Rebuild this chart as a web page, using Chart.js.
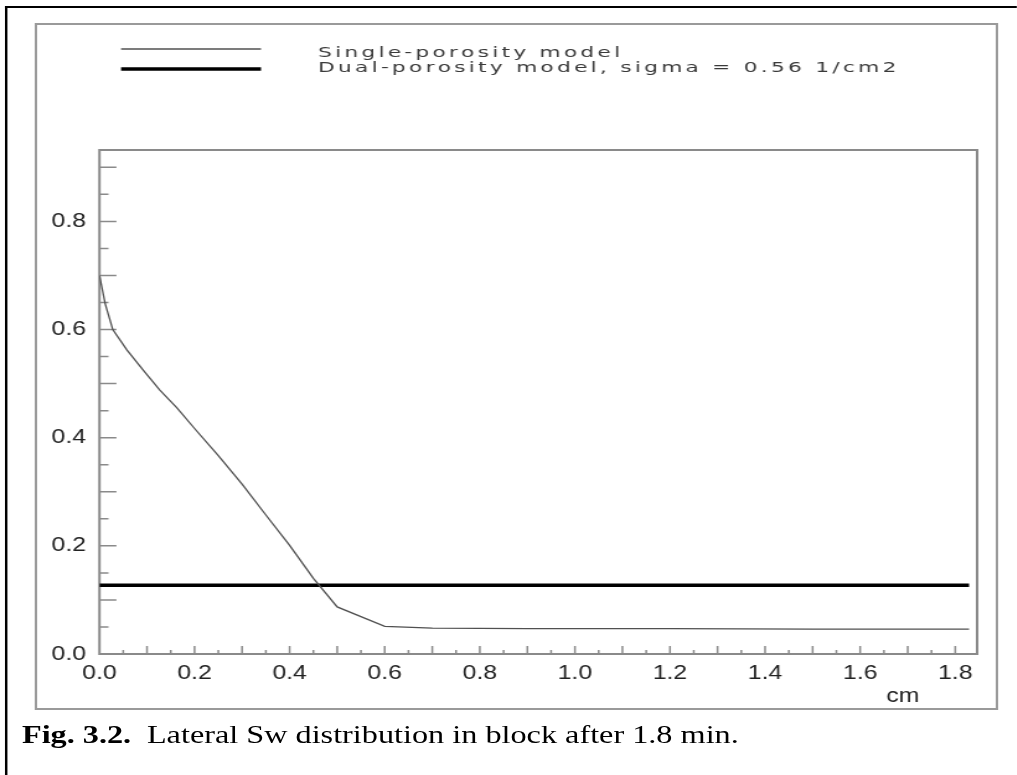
<!DOCTYPE html>
<html>
<head>
<meta charset="utf-8">
<title>Lateral Sw distribution</title>
<script src="https://cdn.jsdelivr.net/npm/chart.js@4.4.1/dist/chart.umd.min.js"></script>
<style>
  html, body { margin: 0; padding: 0; background: #fff; overflow: hidden; }
  /* the whole figure is drawn 1.24x wider than tall, like the printed plot */
  #page { position: absolute; left: 0; top: 0; width: 820px; height: 775px; overflow: hidden; transform: scaleX(1.24); transform-origin: 0 0; }
  #outer { position: absolute; left: 3.5px; top: 6px; width: 830px; height: 769px; border-left: 2px solid #000; border-top: 2px solid #000; }
  #frame { position: absolute; left: 28px; top: 23px; width: 777px; height: 687px; box-sizing: border-box; border: 2px solid #9a9a9a; }
  #plot { position: relative; width: 773px; height: 683px; }
  #caption { position: absolute; left: 17.7px; top: 722px; font-family: "Liberation Serif", "Times New Roman", serif; font-size: 26px; line-height: 26px; color: #000; white-space: nowrap; }
  #caption b { margin-right: 12.7px; }
</style>
</head>
<body>
<div id="page">
  <div id="outer"></div>
  <div id="frame"><div id="plot"><canvas id="grafico"></canvas></div></div>
  <div id="caption"><b>Fig. 3.2.</b>Lateral Sw distribution in block after 1.8 min.</div>
</div>
<script>
// distance from the fracture face (cm)
const xSingle = [0, 0.012, 0.028, 0.058, 0.092, 0.127, 0.163, 0.20, 0.25, 0.30, 0.35, 0.40, 0.45, 0.50, 0.60, 0.70, 0.90, 1.20, 1.50, 1.829];
// water saturation, single-porosity model
const swSingle = [0.70, 0.648, 0.600, 0.562, 0.525, 0.488, 0.455, 0.417, 0.367, 0.314, 0.257, 0.201, 0.140, 0.087, 0.051, 0.048, 0.047, 0.047, 0.046, 0.046];
// dual-porosity model (sigma = 0.56 1/cm2)
const xDual = [0, 1.829];
const swDual = [0.127, 0.127];

const xLabelTicks = [0, 0.2, 0.4, 0.6, 0.8, 1.0, 1.2, 1.4, 1.6, 1.8];
const yLabelTicks = [0, 0.2, 0.4, 0.6, 0.8];

const seriesNames = ['Single-porosity model', 'Dual-porosity model, sigma = 0.56 1/cm2'];

const tickFont = { family: '"Liberation Sans", Arial, Helvetica, sans-serif', size: 20 };

// marco gris y marcas de escala hacia dentro
const axisFrame = {
  id: 'axisFrame',
  beforeDatasetsDraw(chart) {
    const { ctx, chartArea: a, scales: { x, y } } = chart;
    ctx.save();
    ctx.strokeStyle = '#8a8a8a';
    ctx.lineWidth = 2;
    ctx.strokeRect(a.left, a.top, a.right - a.left, a.bottom - a.top);
    ctx.lineWidth = 1.5;
    ctx.beginPath();
    for (let k = 1; k * 0.05 <= 1.8 + 1e-9; k++) {
      const px = x.getPixelForValue(k * 0.05);
      const len = k % 2 === 0 ? 8 : 4;
      ctx.moveTo(px, a.bottom);
      ctx.lineTo(px, a.bottom - len);
    }
    for (let k = 1; k * 0.05 <= 0.9 + 1e-9; k++) {
      const py = y.getPixelForValue(k * 0.05);
      const len = k % 2 === 0 ? 13.7 : 7.3;
      ctx.moveTo(a.left, py);
      ctx.lineTo(a.left + len, py);
    }
    ctx.stroke();
    ctx.restore();
  }
};

// leyenda arriba con letras anchas y espaciadas, y la unidad del eje x
const legendBox = {
  id: 'legendBox',
  afterDraw(chart) {
    const ctx = chart.ctx;
    const rows = [{ y: 24, base: 32 }, { y: 44, base: 47 }];
    ctx.save();
    chart.data.datasets.forEach((ds, i) => {
      ctx.strokeStyle = ds.borderColor;
      ctx.lineWidth = ds.borderWidth;
      ctx.beginPath();
      ctx.moveTo(67.6, rows[i].y);
      ctx.lineTo(180.5, rows[i].y);
      ctx.stroke();

      ctx.save();
      ctx.translate(226.5, rows[i].base);
      ctx.scale(1.25, 1);
      ctx.fillStyle = '#3a3a3a';
      ctx.font = '14px "DejaVu Sans", sans-serif';
      ctx.textBaseline = 'alphabetic';
      ctx.textAlign = 'left';
      let cx = 0;
      for (const ch of ds.label) {
        ctx.fillText(ch, cx, 0);
        cx += ctx.measureText(ch).width + 2.1;
      }
      ctx.restore();
    });
    ctx.fillStyle = '#222';
    ctx.font = '20px "Liberation Sans", Arial, sans-serif';
    ctx.textAlign = 'center';
    ctx.fillText('cm', 698, 677);
    ctx.restore();
  }
};

new Chart(document.getElementById('grafico').getContext('2d'), {
  type: 'line',
  data: {
    datasets: [
      {
        label: seriesNames[0],
        data: xSingle.map((x, i) => ({ x, y: swSingle[i] })),
        borderColor: '#505050',
        borderWidth: 1.3,
        pointRadius: 0,
        tension: 0
      },
      {
        label: seriesNames[1],
        data: xDual.map((x, i) => ({ x, y: swDual[i] })),
        borderColor: '#000000',
        borderWidth: 3.6,
        pointRadius: 0,
        tension: 0
      }
    ]
  },
  options: {
    responsive: true,
    maintainAspectRatio: false,
    animation: false,
    layout: { padding: { top: 125, right: 15, left: 0, bottom: 0 } },
    plugins: { legend: { display: false }, tooltip: { enabled: false } },
    scales: {
      x: {
        type: 'linear',
        min: 0,
        max: 1.846,
        grid: { display: false, drawTicks: false },
        border: { display: false },
        afterBuildTicks: s => { s.ticks = xLabelTicks.map(v => ({ value: v })); },
        afterFit: s => { s.height = 54; },
        ticks: { autoSkip: false, maxRotation: 0, padding: 7, color: '#222', font: tickFont, callback: v => v.toFixed(1) }
      },
      y: {
        type: 'linear',
        min: 0,
        max: 0.932,
        grid: { display: false, drawTicks: false },
        border: { display: false },
        afterBuildTicks: s => { s.ticks = yLabelTicks.map(v => ({ value: v })); },
        afterFit: s => { s.width = 50.2; },
        ticks: { autoSkip: false, padding: 10.8, color: '#222', font: tickFont, callback: v => v.toFixed(1) }
      }
    }
  },
  plugins: [axisFrame, legendBox]
});
</script>
</body>
</html>
